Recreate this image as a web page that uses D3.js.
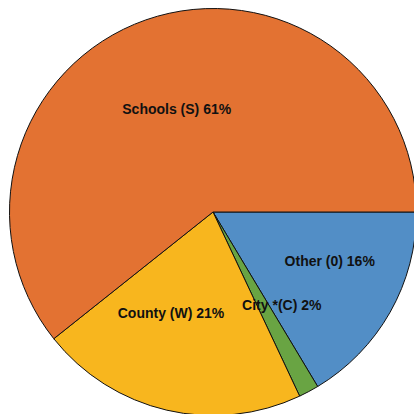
<!DOCTYPE html>
<html><head><meta charset="utf-8">
<script src="https://cdn.jsdelivr.net/npm/d3@7"></script>
<style>html,body{margin:0;padding:0;background:#fff;overflow:hidden}</style>
</head><body>
<svg id="chart" width="414" height="414"></svg>
<script>
const categories = ["Other (0)", "City *(C)", "County (W)", "Schools (S)"];
const values = [16.4, 1.6, 21.3, 60.7];
const percentLabels = ["16%", "2%", "21%", "61%"];
const colors = ["#528ec6", "#69a443", "#f8b61e", "#e37232"];

const svg = d3.select("#chart");
const cx = 213, cy = 212, R = 203.5;
const g = svg.append("g").attr("transform", `translate(${cx},${cy})`);

const data = categories.map((c, i) => ({name: c, value: values[i], pct: percentLabels[i], color: colors[i]}));
const pie = d3.pie().value(d => d.value).sort(null)
  .startAngle(Math.PI / 2).endAngle(Math.PI / 2 + 2 * Math.PI);
const arc = d3.arc().innerRadius(0).outerRadius(R);
const labelArc = d3.arc().innerRadius(110).outerRadius(110);
const arcs = pie(data);

g.selectAll("path.slice").data(arcs).enter().append("path")
  .attr("class", "slice")
  .attr("d", arc)
  .attr("fill", d => d.data.color)
  .attr("stroke", "#111")
  .attr("stroke-width", 1)
  .attr("stroke-linejoin", "round");

// label nudges (layout only)
const nudge = {"Other (0)": [21, -5.5], "City *(C)": [17, -4], "County (W)": [-17, -6], "Schools (S)": [0, 1]};
g.selectAll("text.lbl").data(arcs).enter().append("text")
  .attr("class", "lbl")
  .attr("x", d => labelArc.centroid(d)[0] + nudge[d.data.name][0])
  .attr("y", d => labelArc.centroid(d)[1] + nudge[d.data.name][1])
  .attr("text-anchor", "middle")
  .attr("dominant-baseline", "central")
  .attr("font-family", "Liberation Sans, Arial, sans-serif")
  .attr("font-weight", "bold")
  .attr("font-size", 14)
  .attr("fill", "#111")
  .text(d => `${d.data.name} ${d.data.pct}`);
</script>
</body></html>
